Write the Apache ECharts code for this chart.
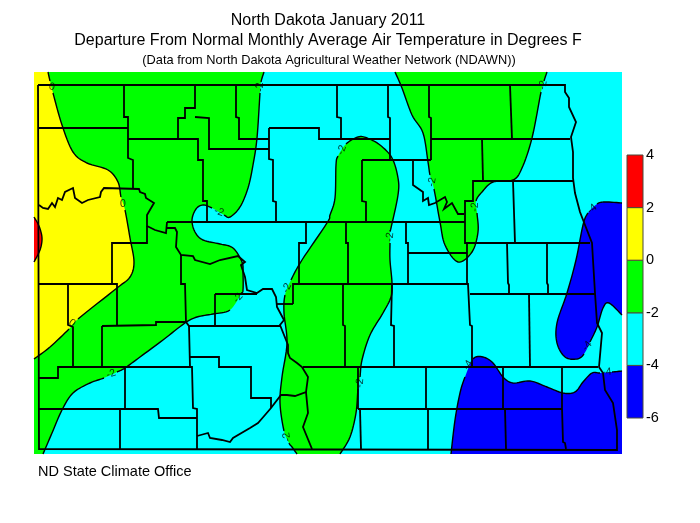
<!DOCTYPE html>
<html><head><meta charset="utf-8">
<style>html,body{margin:0;padding:0;background:#fff}#c{width:700px;height:523px}</style>
<script src="https://cdn.jsdelivr.net/npm/echarts@6/dist/echarts.min.js"></script>
</head><body><div id="c"></div>
<script>
// Contours: open polylines; null = gap in the drawn line where a label sits
const contourZero = [[48,72],[50,81],null,[53,93],[62,125],[73,152],[87,163],[108,170],[118,182],[121,197],null,[125,210],[130,238],[134,262],[130,277],[117,288],[78,319],null,[69,329],[50,347],[34,359]];
const contourRed = [[34,217],[39,226],[42,238],[40,250],[34,262]];
const contourWestMinus2 = [[264,72],[261,82],null,[260,93],[257,138],[253,165],[248,188],[240,207],[230,217],[224,215],null,[212,208],[203,205],[196,209],[192,220],[195,232],[203,240],[220,244],[233,248],[242,262],[243,273],[243,290],[241,294],null,[230,310],[213,314],[197,317],[185,323],[163,340],[140,357],[125,368],[117,372],null,[104,378],[90,383],[73,393],[62,410],[52,433],[43,454]];
const contourCentralMinus2 = [[297,454],[292,447],[289,443],null,[284,431],[280,403],[282,377],[287,343],[284,313],[285,295],null,[291,280],[302,260],[327,223],[330,215],[335,198],[336,165],[338,156],null,[346,144],[358,137],[367,138],[380,145],[392,158],[398,178],[398,195],[391,228],[390,231],null,[390,243],[390,260],[392,283],[391,297],[383,313],[370,335],[362,360],[360,377],null,[358,389],[356,413],[350,437],[340,454]];
const contourNorthMinus2 = [[395,72],[402,88],[412,115],[423,133],[428,162],[430,175],null,[434,189],[440,222],[445,245],[458,262],[472,252],[478,232],[477,213],null,[476,201],[482,192],[493,182],[513,180],[522,168],[532,138],[541,92],null,[544,81],[547,72]];
const contourEastMinus4 = [[622,203],[605,202],[597,204],null,[588,213],[583,225],[576,260],[567,293],[557,323],[557,343],[565,357],[577,359],[584,354],null,[590,342],[597,327],[603,308],[609,303],[622,315]];
const contourSouthMinus4 = [[622,371],[612,372],null,[600,373],[592,373],[583,382],[575,392],[563,393],[547,387],[530,381],[513,383],[503,377],[493,363],[483,357],[473,359],null,[465,377],[460,393],[455,420],[451,454]];
// Frame corners that close each filled region
const closeZero = [[34,72]];
const closeRed = [];
const closeWest = [[34,454],[34,72]];
const closeCentral = [];
const closeNorth = [];
const closeEast = [];
const closeSouth = [[622,454]];
// Fill colours
const cyan='#00ffff', green='#00ff00', yellow='#ffff00', red='#ff0000', blue='#0000ff';
const frame=[34,622,72,454];
// Contour line labels: x, y, text, rotation
const contourLabels = [
 [52,87,'0',-10],[123,204,'0',0],[72,323,'0',-35],
 [260,87,'-2',90],[219,212,'-2',-20],[342,150,'-2',70],[432,182,'-2',80],[475,207,'-2',88],[390,237,'-2',85],[543,85,'-2',80],
 [287,288,'-2',65],[238,298,'-2',50],[111,374,'-2',20],[287,437,'-2',100],[360,383,'-2',85],
 [592,209,'-4',40],[587,346,'-4',50],[607,372,'-4',5],[468,365,'-4',60]];
// County and state boundaries
const boundaries = [
 [[38,85],[565,85],[565,92],[569,98],[569,107],[576,122],[571,137],[573,152],[573,178],[575,193],[580,212],[585,225],[592,243],[593,260],[595,293],[597,323],[602,333],[599,367],[603,373],[605,390],[613,403],[617,430],[617,450],[39,449],[38,85]],
 [[38,128],[128,128]],
 [[124,85],[124,117],[128,117],[128,158],[133,160],[133,188]],
 [[128,139],[198,139],[198,160],[203,160],[203,201],[207,201],[207,222]],
 [[195,85],[195,108],[185,108],[185,118],[178,118],[178,139]],
 [[195,117],[209,118],[209,149],[269,149]],
 [[236,85],[236,117],[239,118],[239,139],[269,139]],
 [[269,128],[269,159],[273,160],[273,201],[276,202],[276,222]],
 [[269,128],[319,128],[319,139],[390,139]],
 [[337,85],[337,117],[341,118],[341,139]],
 [[388,85],[388,117],[390,118],[390,160]],
 [[167,222],[465,222]],
 [[362,160],[431,160]],
 [[429,85],[429,117],[431,118],[431,160]],
 [[431,139],[570,139]],
 [[362,160],[362,201],[366,202],[366,222]],
 [[482,139],[483,180]],
 [[510,85],[512,139]],
 [[573,181],[473,181],[473,201],[465,201],[465,243],[590,243]],
 [[513,181],[515,243]],
 [[413,160],[413,185],[423,192],[423,201],[428,198],[429,205],[435,203],[445,197],[447,202],[444,209],[452,203],[458,214],[464,214]],
 [[406,222],[406,243],[408,243],[408,283]],
 [[408,253],[467,253]],
 [[467,243],[467,284]],
 [[507,243],[508,283],[509,285],[509,294]],
 [[547,243],[547,283],[548,285],[548,294]],
 [[346,222],[346,243],[348,243],[348,283]],
 [[293,304],[293,284],[468,284],[470,325],[472,326],[472,367]],
 [[470,294],[595,294]],
 [[529,294],[530,367]],
 [[303,367],[598,367]],
 [[392,283],[391,325],[394,326],[394,367]],
 [[343,284],[343,325],[345,326],[345,367]],
 [[426,367],[426,408]],
 [[358,367],[358,409]],
 [[358,409],[562,409]],
 [[360,409],[361,449]],
 [[428,409],[428,449]],
 [[505,409],[506,449]],
 [[503,367],[503,408]],
 [[562,367],[562,408],[563,442],[565,443],[566,449]],
 [[39,205],[43,208],[48,209],[52,203],[55,207],[58,198],[62,200],[65,192],[73,188],[75,198],[82,203],[88,200],[100,197],[101,192],[104,188],[139,189],[140,192],[145,194],[146,198],[154,203],[147,215],[147,226],[155,230],[166,233],[167,222]],
 [[147,226],[147,243],[112,243],[112,284]],
 [[167,228],[175,228],[177,232],[176,247],[181,255],[193,256],[195,260],[210,264],[220,260],[238,256],[245,262],[241,265],[245,277],[247,290],[257,293],[263,289],[272,289],[276,297],[277,307],[284,320],[280,325],[288,345],[288,353],[290,358],[297,363],[302,367],[308,377],[306,392],[295,396],[287,395],[281,395],[271,408],[265,415],[258,423],[250,428],[233,438],[230,442],[222,440],[210,438],[208,433],[197,436]],
 [[181,255],[181,284],[185,284],[186,322]],
 [[39,284],[117,284],[117,325]],
 [[68,284],[68,325],[73,327],[73,367]],
 [[102,326],[156,325],[156,322],[186,322],[189,326],[280,326]],
 [[102,326],[102,367]],
 [[215,294],[257,294]],
 [[215,294],[215,325]],
 [[277,304],[293,304]],
 [[306,222],[306,243],[299,243],[299,284]],
 [[39,378],[58,378],[58,367],[192,367]],
 [[125,367],[125,409]],
 [[39,409],[158,409],[159,418],[197,418]],
 [[189,326],[190,367],[192,367],[193,408],[197,409],[197,449]],
 [[120,409],[120,449]],
 [[190,357],[219,357],[219,367],[251,367],[251,398],[271,398],[271,408]],
 [[306,392],[308,413],[303,427],[312,449]]
];
// Colour bar
const barLevels = [-6,-4,-2,0,2,4];
const barColors = [blue,cyan,green,yellow,red];
const titleLines = ['North Dakota January 2011','Departure From Normal Monthly Average Air Temperature in Degrees F','(Data from North Dakota Agricultural Weather Network (NDAWN))'];
const creditLine = 'ND State Climate Office';

const layers = [
 {c:contourWestMinus2,close:closeWest,fill:green},
 {c:contourZero,close:closeZero,fill:yellow},
 {c:contourRed,close:closeRed,fill:red},
 {c:contourCentralMinus2,close:closeCentral,fill:green},
 {c:contourNorthMinus2,close:closeNorth,fill:green},
 {c:contourEastMinus4,close:closeEast,fill:blue},
 {c:contourSouthMinus4,close:closeSouth,fill:blue}
];

// Curve through pts for display only; returns runs split at the gaps
function curve(c){
  const pts=c.filter(p=>p), gaps=new Set(); let n=-1;
  c.forEach(p=>{ if(p===null) gaps.add(n); else n++; });
  const all=[], runs=[]; let run=[];
  for(let i=0;i<pts.length-1;i++){
    const p0=pts[Math.max(i-1,0)],p1=pts[i],p2=pts[i+1],p3=pts[Math.min(i+2,pts.length-1)];
    const seg=[];
    for(let k=0;k<=8;k++){
      const t=k/8,t2=t*t,t3=t2*t;
      seg.push([0,1].map(d=>0.5*(2*p1[d]+(p2[d]-p0[d])*t+(2*p0[d]-5*p1[d]+4*p2[d]-p3[d])*t2+(3*p1[d]-p0[d]-3*p2[d]+p3[d])*t3)));
    }
    all.push(...seg);
    if(gaps.has(i)){ if(run.length) runs.push(run); run=[]; } else run.push(...seg);
  }
  if(run.length) runs.push(run);
  return {all,runs};
}

const series=[];
series.push({type:'custom',coordinateSystem:'cartesian2d',xAxisIndex:0,yAxisIndex:0,silent:true,z:1,animation:false,
  data:[[frame[0],frame[2]]],
  renderItem:(params,api)=>{
    const a=api.coord([frame[0],frame[2]]),b=api.coord([frame[1],frame[3]]);
    return {type:'rect',shape:{x:a[0],y:a[1],width:b[0]-a[0],height:b[1]-a[1]},style:{fill:cyan}};
  }});
layers.forEach((l,i)=>{
  series.push({type:'custom',coordinateSystem:'cartesian2d',xAxisIndex:0,yAxisIndex:0,silent:true,z:2+i,animation:false,
    data:[l.c.filter(p=>p)[0]],
    renderItem:(params,api)=>{
      const cv=curve(l.c);
      const poly=cv.all.concat(l.close).map(p=>api.coord(p));
      const kids=[{type:'polygon',shape:{points:poly},style:{fill:l.fill,stroke:null}}];
      cv.runs.forEach(r=>kids.push({type:'polyline',shape:{points:r.map(p=>api.coord(p))},style:{fill:null,stroke:'#000',lineWidth:1.4}}));
      return {type:'group',children:kids};
    }});
});
series.push({type:'custom',coordinateSystem:'cartesian2d',xAxisIndex:0,yAxisIndex:0,silent:true,z:20,animation:false,
  data:boundaries.map((b,i)=>[b[0][0],b[0][1],i]),
  renderItem:(params,api)=>({type:'polyline',shape:{points:boundaries[params.dataIndex].map(p=>api.coord(p))},
    style:{fill:null,stroke:'#000',lineWidth:1.8,lineJoin:'miter'}})
});
series.push({type:'scatter',xAxisIndex:0,yAxisIndex:0,silent:true,z:30,animation:false,symbolSize:0,
  data:contourLabels.map(l=>({value:[l[0],l[1]],label:{show:true,position:'inside',formatter:l[2],rotate:l[3],
    fontFamily:'Liberation Sans',fontSize:10.5,color:'#000'}}))
});
series.push({type:'custom',coordinateSystem:'cartesian2d',xAxisIndex:1,yAxisIndex:1,silent:true,z:5,animation:false,
  data:barColors.map((c,i)=>[0,barLevels[i],barLevels[i+1],i]),
  encode:{x:0,y:[1,2]},
  renderItem:(params,api)=>{
    const lo=api.coord([0,api.value(1)]),hi=api.coord([1,api.value(2)]);
    return {type:'rect',shape:{x:lo[0],y:hi[1],width:hi[0]-lo[0],height:lo[1]-hi[1]},
      style:{fill:barColors[api.value(3)],stroke:'#4a4a3a',lineWidth:1}};
  }});

const chart=echarts.init(document.getElementById('c'),null,{renderer:'canvas'});
const F='Liberation Sans';
chart.setOption({
  animation:false,backgroundColor:'#fff',
  title:[
   {text:titleLines[0],left:323,top:8,textAlign:'center',textStyle:{fontFamily:F,fontWeight:'normal',fontSize:16,color:'#000'}},
   {text:titleLines[1],left:323,top:28,textAlign:'center',textStyle:{fontFamily:F,fontWeight:'normal',fontSize:16,color:'#000'}},
   {text:titleLines[2],left:324,top:49,textAlign:'center',textStyle:{fontFamily:F,fontWeight:'normal',fontSize:12.8,color:'#000'}},
   {text:creditLine,left:33,top:459,textStyle:{fontFamily:F,fontWeight:'normal',fontSize:14.5,color:'#000'}}
  ],
  grid:[
   {left:34,top:72,width:588,height:382,containLabel:false},
   {left:627,top:155,width:16,height:263,containLabel:false}
  ],
  xAxis:[
   {gridIndex:0,type:'value',min:frame[0],max:frame[1],show:false},
   {gridIndex:1,type:'value',min:0,max:1,show:false}
  ],
  yAxis:[
   {gridIndex:0,type:'value',min:frame[2],max:frame[3],inverse:true,show:false},
   {gridIndex:1,type:'value',min:-6,max:4,interval:2,position:'right',
    axisLine:{show:false},axisTick:{show:false},splitLine:{show:false},
    axisLabel:{show:true,margin:3,fontFamily:F,fontSize:14.5,color:'#000'}}
  ],
  series
});
</script></body></html>
